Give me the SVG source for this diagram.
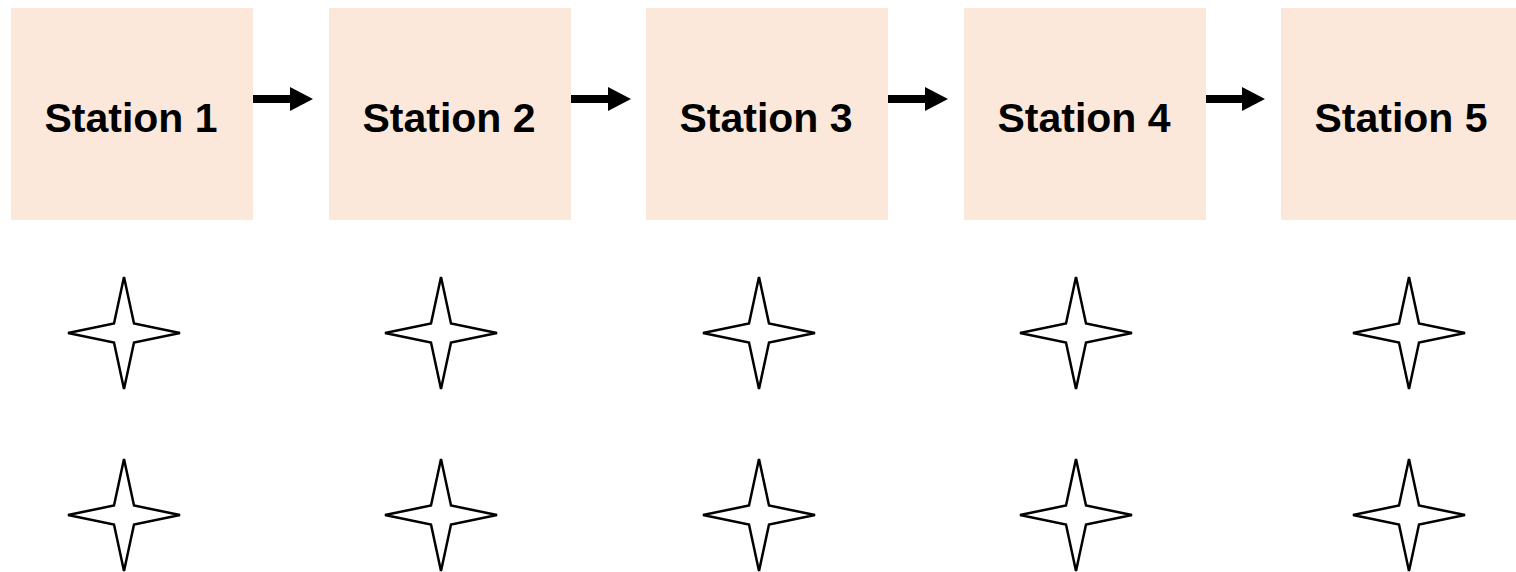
<svg xmlns="http://www.w3.org/2000/svg" width="1516" height="572" viewBox="0 0 1516 572">
  <style>
    .station rect { fill: #FCE8DA; }
    .station text { font-family: "Liberation Sans", Arial, sans-serif; font-weight: bold; font-size: 41px; fill: #000; text-anchor: middle; }
    .flow { stroke: #000; stroke-width: 8; fill: none; }
    .head { fill: #000; }
    .spark { fill: #fff; stroke: #000; stroke-width: 2.5; stroke-linejoin: miter; }
  </style>
  <defs>
    <!-- four-pointed star centred on the origin -->
    <polygon id="spark" class="spark" points="0,-56 10,-9.5 56,0 10,9.5 0,56 -10,9.5 -56,0 -10,-9.5"/>
  </defs>

  <rect width="1516" height="572" fill="#fff"/>

  <g id="station-1" class="station">
    <rect x="11" y="8" width="242" height="212"/>
    <text x="131" y="132">Station 1</text>
  </g>
  <g id="station-2" class="station">
    <rect x="329" y="8" width="242" height="212"/>
    <text x="449" y="132">Station 2</text>
  </g>
  <g id="station-3" class="station">
    <rect x="646" y="8" width="242" height="212"/>
    <text x="766" y="132">Station 3</text>
  </g>
  <g id="station-4" class="station">
    <rect x="964" y="8" width="242" height="212"/>
    <text x="1084" y="132">Station 4</text>
  </g>
  <g id="station-5" class="station">
    <rect x="1281" y="8" width="242" height="212"/>
    <text x="1401" y="132">Station 5</text>
  </g>

  <g id="connectors">
    <line class="flow" x1="253" y1="99" x2="291" y2="99"/>
    <polygon class="head" points="290,87 313,99 290,111"/>
    <line class="flow" x1="571" y1="99" x2="609" y2="99"/>
    <polygon class="head" points="608,87 631,99 608,111"/>
    <line class="flow" x1="888" y1="99" x2="926" y2="99"/>
    <polygon class="head" points="925,87 948,99 925,111"/>
    <line class="flow" x1="1206" y1="99" x2="1243" y2="99"/>
    <polygon class="head" points="1242,87 1265,99 1242,111"/>
  </g>

  <g id="sparks-row-1">
    <use href="#spark" x="124" y="333"/>
    <use href="#spark" x="441" y="333"/>
    <use href="#spark" x="759" y="333"/>
    <use href="#spark" x="1076" y="333"/>
    <use href="#spark" x="1409" y="333"/>
  </g>
  <g id="sparks-row-2">
    <use href="#spark" x="124" y="515"/>
    <use href="#spark" x="441" y="515"/>
    <use href="#spark" x="759" y="515"/>
    <use href="#spark" x="1076" y="515"/>
    <use href="#spark" x="1409" y="515"/>
  </g>
</svg>
